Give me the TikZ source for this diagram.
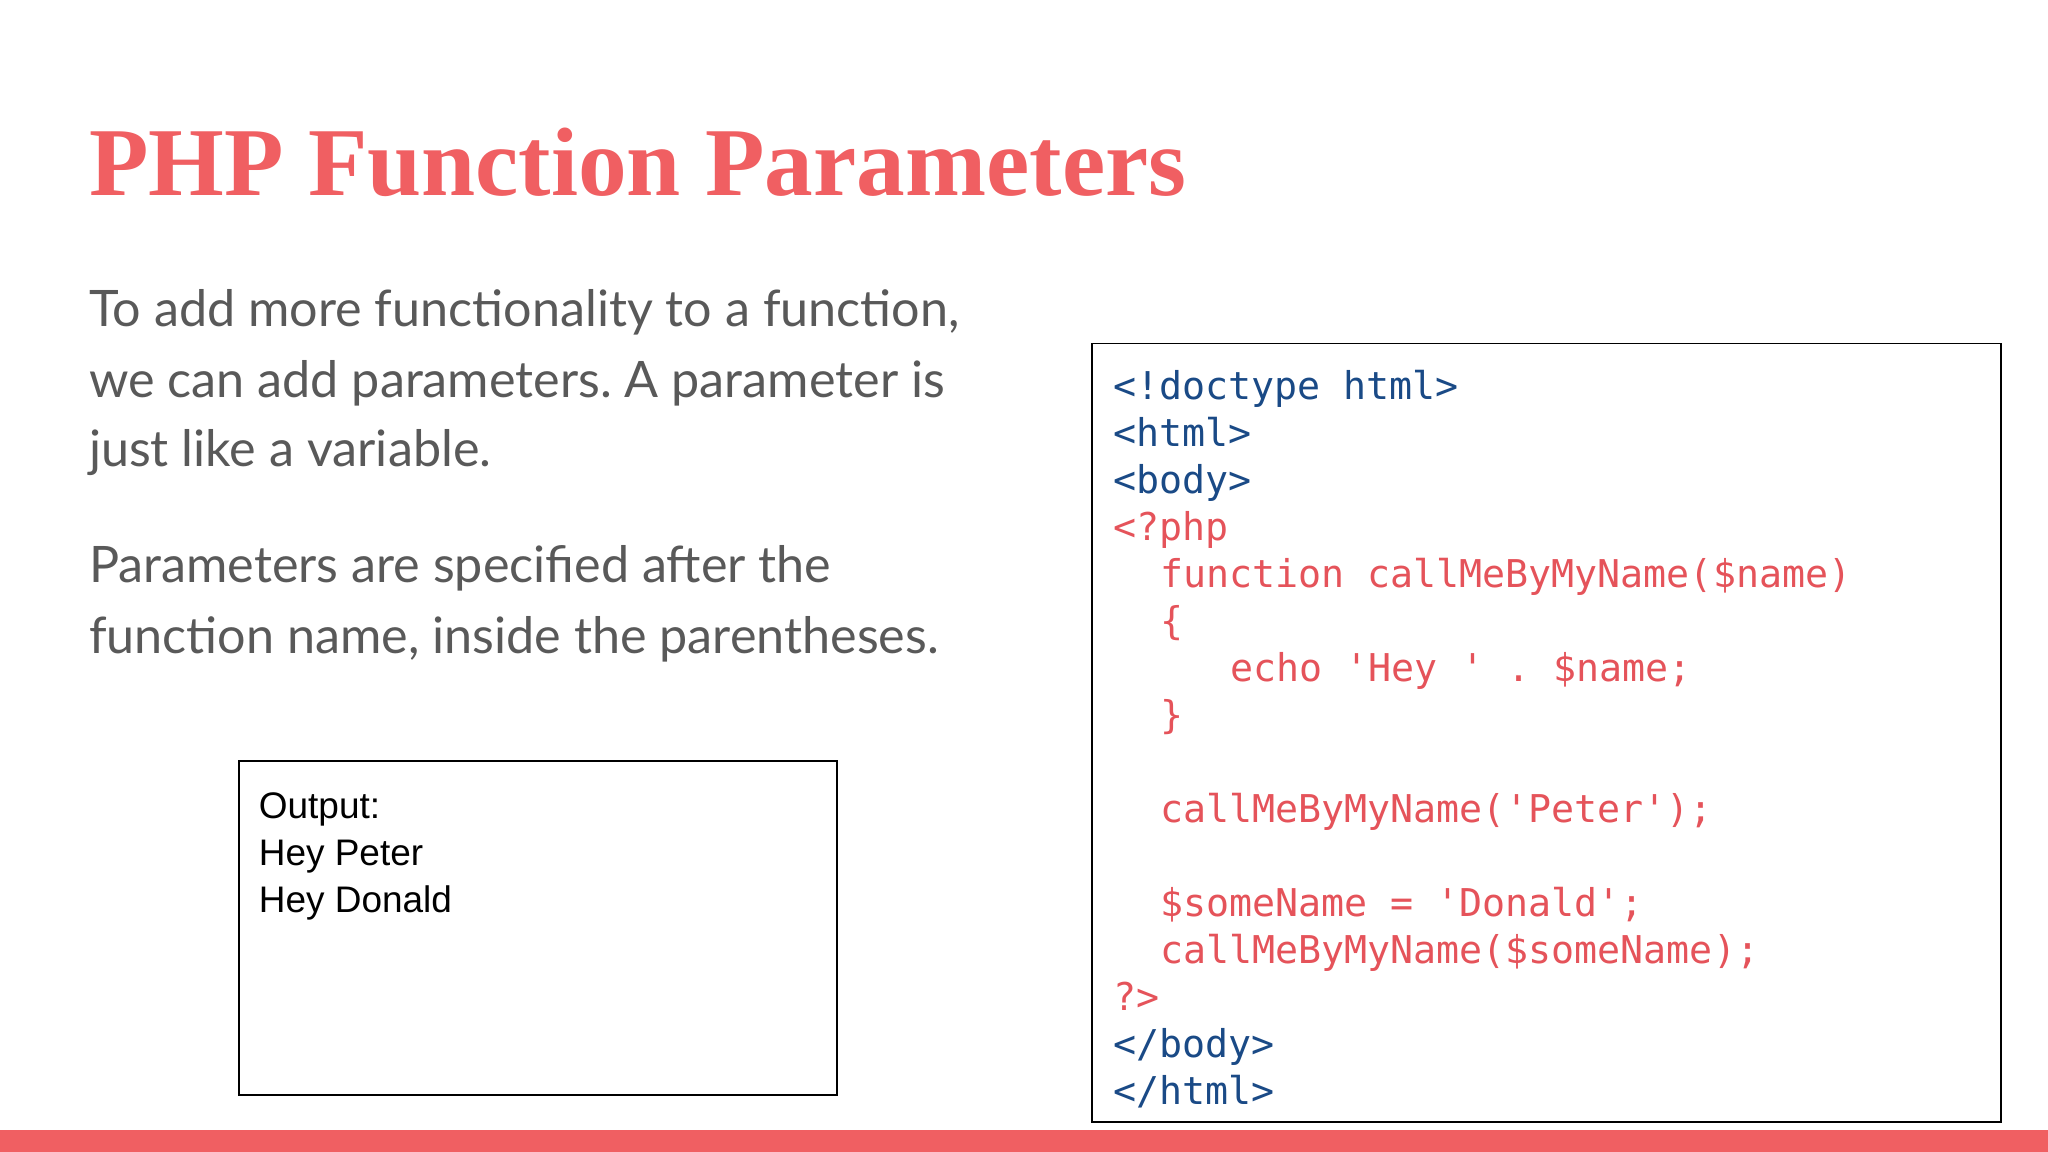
\documentclass[tikz,border=0pt]{standalone}
\usepackage{fontspec}
\setmainfont{Lato}
\newfontfamily\titlefont{Liberation Serif}
\newfontfamily\codefont{DejaVu Sans Mono}
\newfontfamily\outfont{Liberation Sans}
\definecolor{coral}{HTML}{F05F62}
\definecolor{bodygray}{HTML}{595959}
\definecolor{codeblue}{HTML}{1A4A86}
\definecolor{codered}{HTML}{E5535A}
\frenchspacing
\begin{document}
\begin{tikzpicture}[x=1pt,y=-1pt,
  txt/.style={anchor=base west,inner sep=0pt},
  body/.style={txt,font=\fontsize{38.5}{44}\selectfont,text=bodygray},
  cb/.style={txt,font=\codefont\fontsize{29.3}{34}\selectfont,text=codeblue},
  cr/.style={txt,font=\codefont\fontsize{29.3}{34}\selectfont,text=codered},
  outtxt/.style={txt,font=\outfont\fontsize{28.3}{32}\selectfont}]
\useasboundingbox[fill=white] (0,0) rectangle (1568,882);
\fill[coral] (0,865) rectangle (1568,882);
\node[txt,font=\titlefont\bfseries\fontsize{74.5}{90}\selectfont,text=coral] (title) at (68,150) {PHP Function Parameters};
\node[body] (b1) at (68,250) {To add more functionality to a function,};
\node[body] (b2) at (68,304) {we can add parameters. A parameter is};
\node[body] (b3) at (68,357) {just like a variable.};
\node[body] (b4) at (68,446) {Parameters are specified after the};
\node[body] (b5) at (68,500) {function name, inside the parentheses.};
\draw[line width=1.5pt] (836,263) rectangle (1532,859);
\node[cb] (c1) at (852,306) {<!doctype html>};
\node[cb] (c2) at (852,342) {<html>};
\node[cb] (c3) at (852,378) {<body>};
\node[cr] (c4) at (852,414) {<?php};
\node[cr] (c5) at (888,450) {function callMeByMyName(\$name)};
\node[cr] (c6) at (888,486) {\{};
\node[cr] (c7) at (942,522) {echo 'Hey ' . \$name;};
\node[cr] (c8) at (888,558) {\}};
\node[cr] (c9) at (888,630) {callMeByMyName('Peter');};
\node[cr] (c10) at (888,702) {\$someName = 'Donald';};
\node[cr] (c11) at (888,738) {callMeByMyName(\$someName);};
\node[cr] (c12) at (852,774) {?>};
\node[cb] (c13) at (852,810) {</body>};
\node[cb] (c14) at (852,846) {</html>};
\draw[line width=1.5pt] (183,583) rectangle (641,838);
\node[outtxt] (o1) at (198,627) {Output:};
\node[outtxt] (o2) at (198,663) {Hey Peter};
\node[outtxt] (o3) at (198,699) {Hey Donald};
\end{tikzpicture}
\end{document}
